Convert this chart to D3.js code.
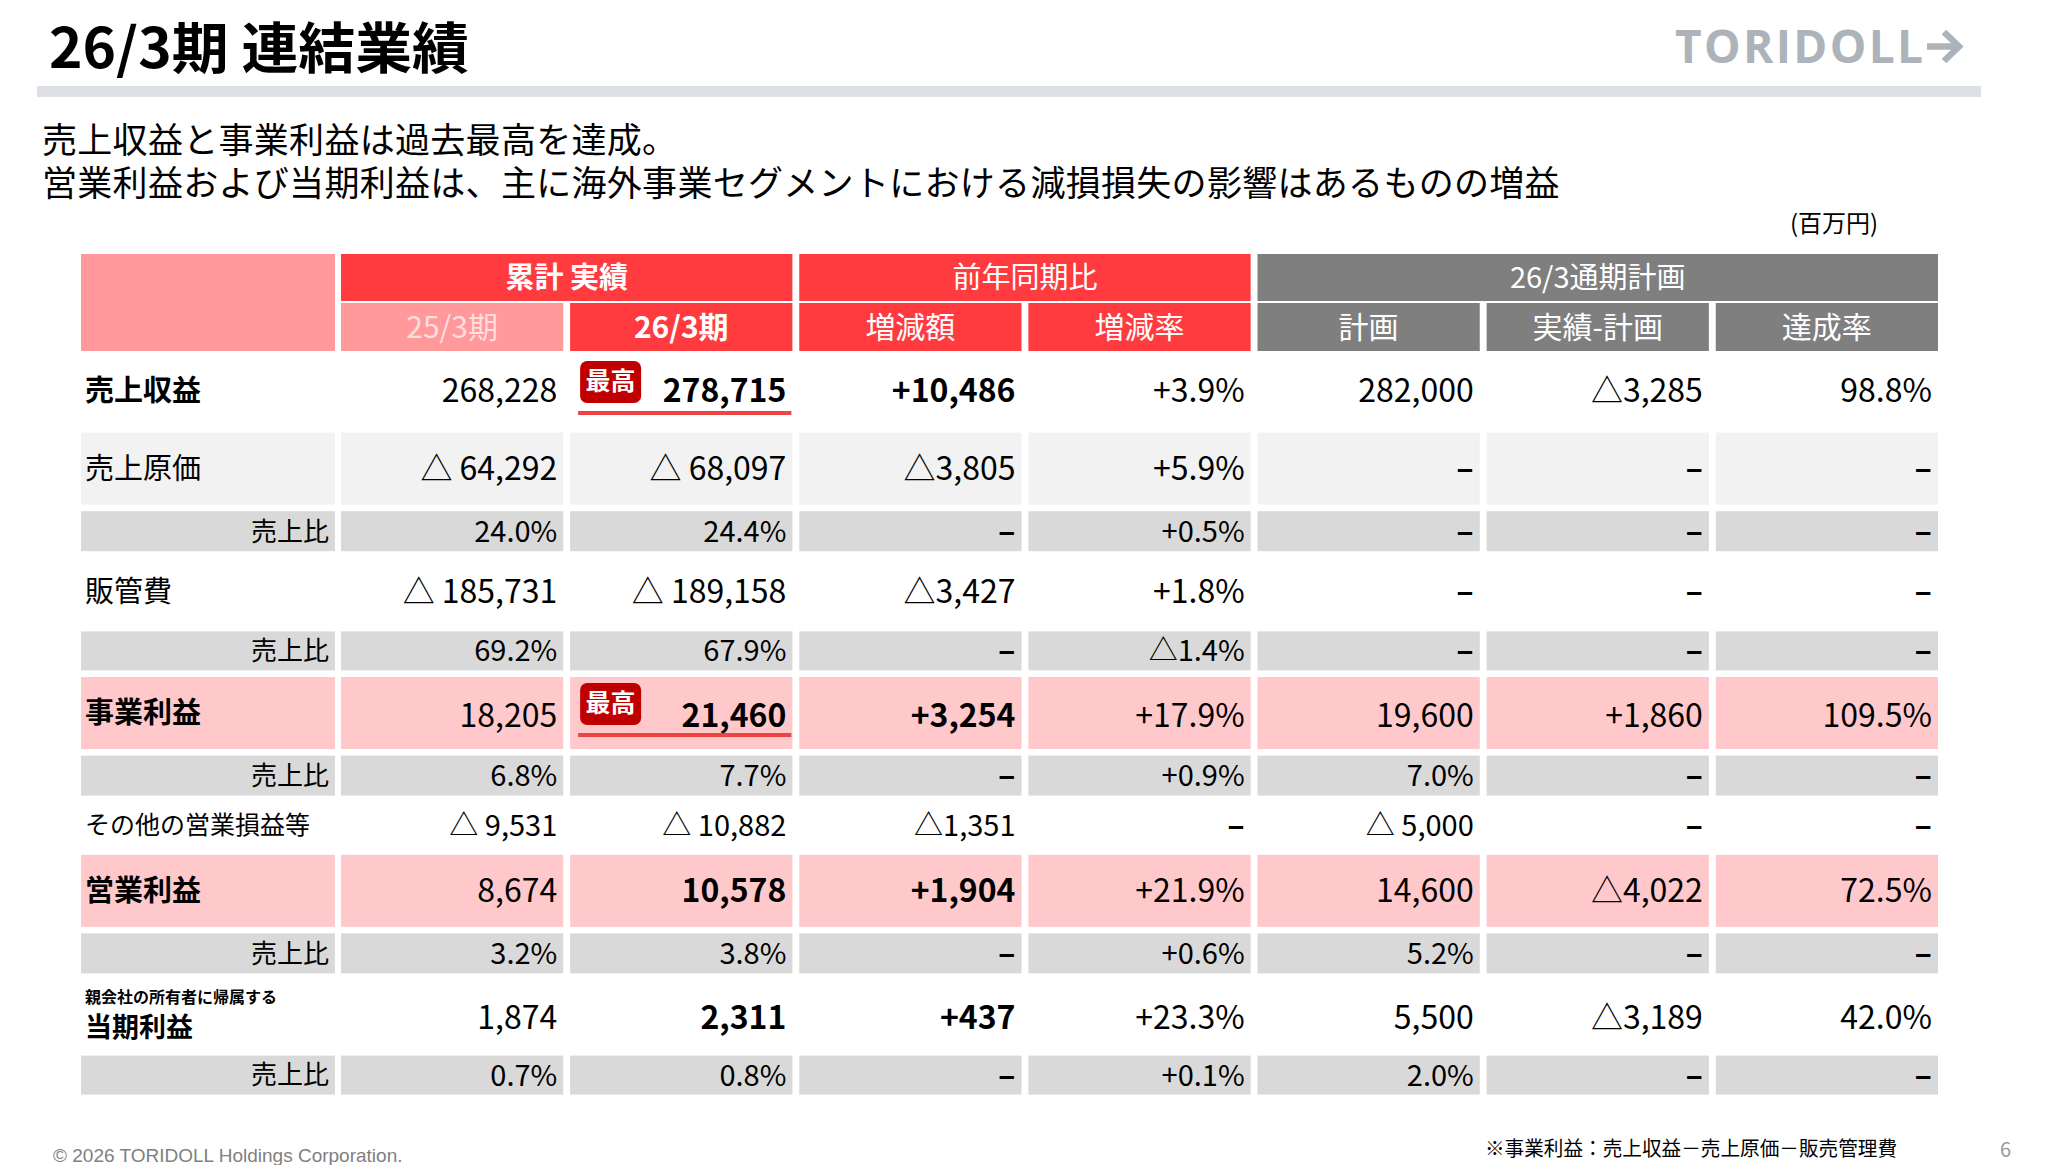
<!DOCTYPE html>
<html lang="ja">
<head>
<meta charset="utf-8">
<script src="https://cdn.jsdelivr.net/npm/d3@7"></script>
<style>
  html, body { margin: 0; padding: 0; background: #fff; }
  #chart { position: relative; width: 2048px; height: 1165px; }
  svg text { font-family: "Noto Sans CJK JP", "Noto Sans", sans-serif; }
  .lead {
    position: absolute; left: 42px; top: 116.25px; margin: 0;
    font-family: "Noto Sans CJK JP", sans-serif; font-size: 35px; line-height: 43px;
    color: #000; white-space: pre; letter-spacing: 0.3px;
  }
</style>
</head>
<body>
<div id="chart"></div>
<script>
// 26/3期 連結業績 table
const colLabels = ["25/3期", "26/3期", "増減額", "増減率", "計画", "実績-計画", "達成率"];
const groupLabels = ["累計 実績", "前年同期比", "26/3通期計画"];
const groupSpans = [[0, 1], [2, 3], [4, 6]];

const rowLabels = ["売上収益", "売上原価", "売上比", "販管費", "売上比", "事業利益", "売上比",
  "その他の営業損益等", "営業利益", "売上比", "当期利益", "売上比"];
const rowNotes = ["", "", "", "", "", "", "", "", "", "", "親会社の所有者に帰属する", ""];
const recordRows = [0, 5];            // 最高 badge
const boldRows = [0, 5, 8, 10];

const leadLines = [
  "売上収益と事業利益は過去最高を達成。",
  "営業利益および当期利益は、主に海外事業セグメントにおける減損損失の影響はあるものの増益"
];

// values, null = "–"
const prev25 = [268228, -64292, 24.0, -185731, 69.2, 18205, 6.8, -9531, 8674, 3.2, 1874, 0.7];
const curr26 = [278715, -68097, 24.4, -189158, 67.9, 21460, 7.7, -10882, 10578, 3.8, 2311, 0.8];
const yoyAmount = [10486, -3805, null, -3427, null, 3254, null, -1351, 1904, null, 437, null];
const yoyRate = [3.9, 5.9, 0.5, 1.8, -1.4, 17.9, 0.9, null, 21.9, 0.6, 23.3, 0.1];
const plan = [282000, null, null, null, null, 19600, 7.0, -5000, 14600, 5.2, 5500, 2.0];
const vsPlan = [-3285, null, null, null, null, 1860, null, null, -4022, null, -3189, null];
const achieveRate = [98.8, null, null, null, null, 109.5, null, null, 72.5, null, 42.0, null];

const columns = [prev25, curr26, yoyAmount, yoyRate, plan, vsPlan, achieveRate];

// layout
const W = 2048, H = 1165;
const rowHeights = [71, 72, 40, 67, 39, 72, 40, 46, 72, 40, 69, 39];
const rowFill = ["#ffffff", "#f2f2f2", "#d9d9d9", "#ffffff", "#d9d9d9", "#ffc9cb", "#d9d9d9",
  "#ffffff", "#ffc9cb", "#d9d9d9", "#ffffff", "#d9d9d9"];
const rowGap = 6.6, bodyTop = 355;
const red = "#ff3b40", pink = "#ff999b", grey = "#7f7f7f";

const svg = d3.select("#chart").append("svg")
  .attr("width", W).attr("height", H)
  .attr("viewBox", `0 0 ${W} ${H}`)
  .style("display", "block");

svg.append("rect").attr("width", W).attr("height", H).attr("fill", "#fff");

// title + header band
svg.append("text").attr("x", 49).attr("y", 68)
  .attr("font-size", 55).attr("font-weight", 700).attr("fill", "#000")
  .attr("textLength", 420).attr("lengthAdjust", "spacingAndGlyphs")
  .text("26/3期 連結業績");
svg.append("rect").attr("x", 37).attr("y", 86).attr("width", 1944).attr("height", 11)
  .attr("fill", "#dde1e5");

// logo
svg.append("text").attr("x", 1675).attr("y", 63)
  .style("font-family", "'Open Sans', sans-serif")
  .attr("font-size", 46).attr("font-weight", 700).attr("fill", "#acb3ba")
  .attr("textLength", 248).attr("lengthAdjust", "spacing")
  .text("TORIDOLL");
svg.append("path")
  .attr("d", "M1927,46.5 H1958 M1944,32 L1959,46.5 L1944,61")
  .attr("fill", "none").attr("stroke", "#acb3ba").attr("stroke-width", 6.5);

// lead text: one paragraph, one text node, two lines
d3.select("#chart").append("p").attr("class", "lead")
  .text(leadLines.join("\n"));

svg.append("text").attr("x", 1790).attr("y", 232)
  .attr("font-size", 24).attr("fill", "#000")
  .text("(百万円)");

// scales
const x = d3.scaleBand()
  .domain(d3.range(colLabels.length))
  .range([341, 1938])
  .paddingInner(0.03);
const labelX0 = 81, labelX1 = 335;

const rowTop = [];
rowHeights.reduce((acc, h) => { rowTop.push(acc); return acc + h + rowGap; }, bodyTop);

// header
const head = svg.append("g");
head.append("rect").attr("x", labelX0).attr("y", 254)
  .attr("width", labelX1 - labelX0).attr("height", 97).attr("fill", pink);

const groupColor = [red, red, grey];
groupLabels.forEach((g, i) => {
  const [a, b] = groupSpans[i];
  const gx0 = x(a), gx1 = x(b) + x.bandwidth();
  head.append("rect").attr("x", gx0).attr("y", 254)
    .attr("width", gx1 - gx0).attr("height", 47).attr("fill", groupColor[i]);
  head.append("text").attr("x", (gx0 + gx1) / 2).attr("y", 277.5).attr("dy", "0.36em")
    .attr("text-anchor", "middle").attr("font-size", 29)
    .attr("font-weight", i === 0 ? 700 : 400).attr("fill", "#fff")
    .text(g);
});

colLabels.forEach((c, i) => {
  const fill = i === 0 ? pink : (i < 4 ? red : grey);
  head.append("rect").attr("x", x(i)).attr("y", 303)
    .attr("width", x.bandwidth()).attr("height", 48).attr("fill", fill);
  head.append("text").attr("x", x(i) + x.bandwidth() / 2).attr("y", 327).attr("dy", "0.36em")
    .attr("text-anchor", "middle").attr("font-size", 30)
    .attr("font-weight", i === 1 ? 700 : 400)
    .attr("fill", i === 0 ? "#ffdede" : "#fff")
    .text(c);
});

// value formatting
const fmtInt = d3.format(",");
function fmt(ci, ri, v) {
  if (v == null) return "–";
  const ratio = rowLabels[ri] === "売上比";
  if (ci === 0 || ci === 1 || ci === 4) {
    if (ratio) return v.toFixed(1) + "%";
    return v < 0 ? "△ " + fmtInt(-v) : fmtInt(v);
  }
  if (ci === 2 || ci === 5) return (v < 0 ? "△" : "+") + fmtInt(Math.abs(v));
  if (ci === 3) return (v < 0 ? "△" : "+") + Math.abs(v).toFixed(1) + "%";
  return v.toFixed(1) + "%";
}

// body rows
const body = svg.append("g");
rowLabels.forEach((label, r) => {
  const y0 = rowTop[r], h = rowHeights[r], cy = y0 + h / 2;
  const fill = rowFill[r];
  const bold = boldRows.includes(r);
  const ratio = label === "売上比";
  const valSize = ratio || r === 7 ? 29 : 32;

  if (fill !== "#ffffff") {
    body.append("rect").attr("x", labelX0).attr("y", y0)
      .attr("width", labelX1 - labelX0).attr("height", h).attr("fill", fill);
    colLabels.forEach((c, i) => {
      body.append("rect").attr("x", x(i)).attr("y", y0)
        .attr("width", x.bandwidth()).attr("height", h).attr("fill", fill);
    });
  }

  // label
  if (ratio) {
    body.append("text").attr("x", labelX1 - 6).attr("y", cy).attr("dy", "0.36em")
      .attr("text-anchor", "end").attr("font-size", 26).attr("fill", "#000")
      .text(label);
  } else if (rowNotes[r]) {
    body.append("text").attr("x", 85).attr("y", cy - 17).attr("dy", "0.36em")
      .attr("font-size", 16).attr("font-weight", 700).attr("fill", "#000")
      .text(rowNotes[r]);
    body.append("text").attr("x", 85).attr("y", cy + 13).attr("dy", "0.36em")
      .attr("font-size", 27).attr("font-weight", 700).attr("fill", "#000")
      .text(label);
  } else {
    body.append("text").attr("x", 85).attr("y", cy).attr("dy", "0.36em")
      .attr("font-size", r === 7 ? 25 : 29).attr("font-weight", bold ? 700 : 400)
      .attr("fill", "#000")
      .text(label);
  }

  // values
  columns.forEach((col, ci) => {
    const vy = rowNotes[r] ? cy + 3 : (recordRows.includes(r) && r !== 0 ? cy + 2 : cy);
    const empty = col[r] == null;
    body.append("text")
      .attr("x", x(ci) + x.bandwidth() - 6).attr("y", vy).attr("dy", "0.36em")
      .attr("text-anchor", "end").attr("font-size", empty ? 32 : valSize)
      .attr("font-weight", empty || (bold && (ci === 1 || ci === 2)) ? 700 : 400)
      .attr("fill", "#000")
      .text(fmt(ci, r, col[r]));
  });

  // record badge + underline
  if (recordRows.includes(r)) {
    const bx = x(1) + 10;
    body.append("rect").attr("x", bx).attr("y", y0 + 6)
      .attr("width", 61).attr("height", 42).attr("rx", 7)
      .attr("fill", "#c00000");
    body.append("text").attr("x", bx + 30.5).attr("y", y0 + 26).attr("dy", "0.36em")
      .attr("text-anchor", "middle").attr("font-size", 25).attr("font-weight", 700)
      .attr("fill", "#fff").text("最高");
    body.append("rect").attr("x", x(1) + 8).attr("y", y0 + 56)
      .attr("width", x.bandwidth() - 9).attr("height", 4)
      .attr("fill", "#ee4444");
  }
});

// footer
svg.append("text").attr("x", 53).attr("y", 1162)
  .style("font-family", "'Liberation Sans', Arial, sans-serif")
  .attr("font-size", 19).attr("fill", "#808080")
  .text("© 2026 TORIDOLL Holdings Corporation.");
svg.append("text").attr("x", 1485).attr("y", 1156)
  .attr("font-size", 20).attr("fill", "#000")
  .attr("textLength", 412).attr("lengthAdjust", "spacingAndGlyphs")
  .text("※事業利益：売上収益－売上原価－販売管理費");
svg.append("text").attr("x", 2000).attr("y", 1157)
  .attr("font-size", 20).attr("fill", "#999")
  .text("6");
</script>
</body>
</html>
